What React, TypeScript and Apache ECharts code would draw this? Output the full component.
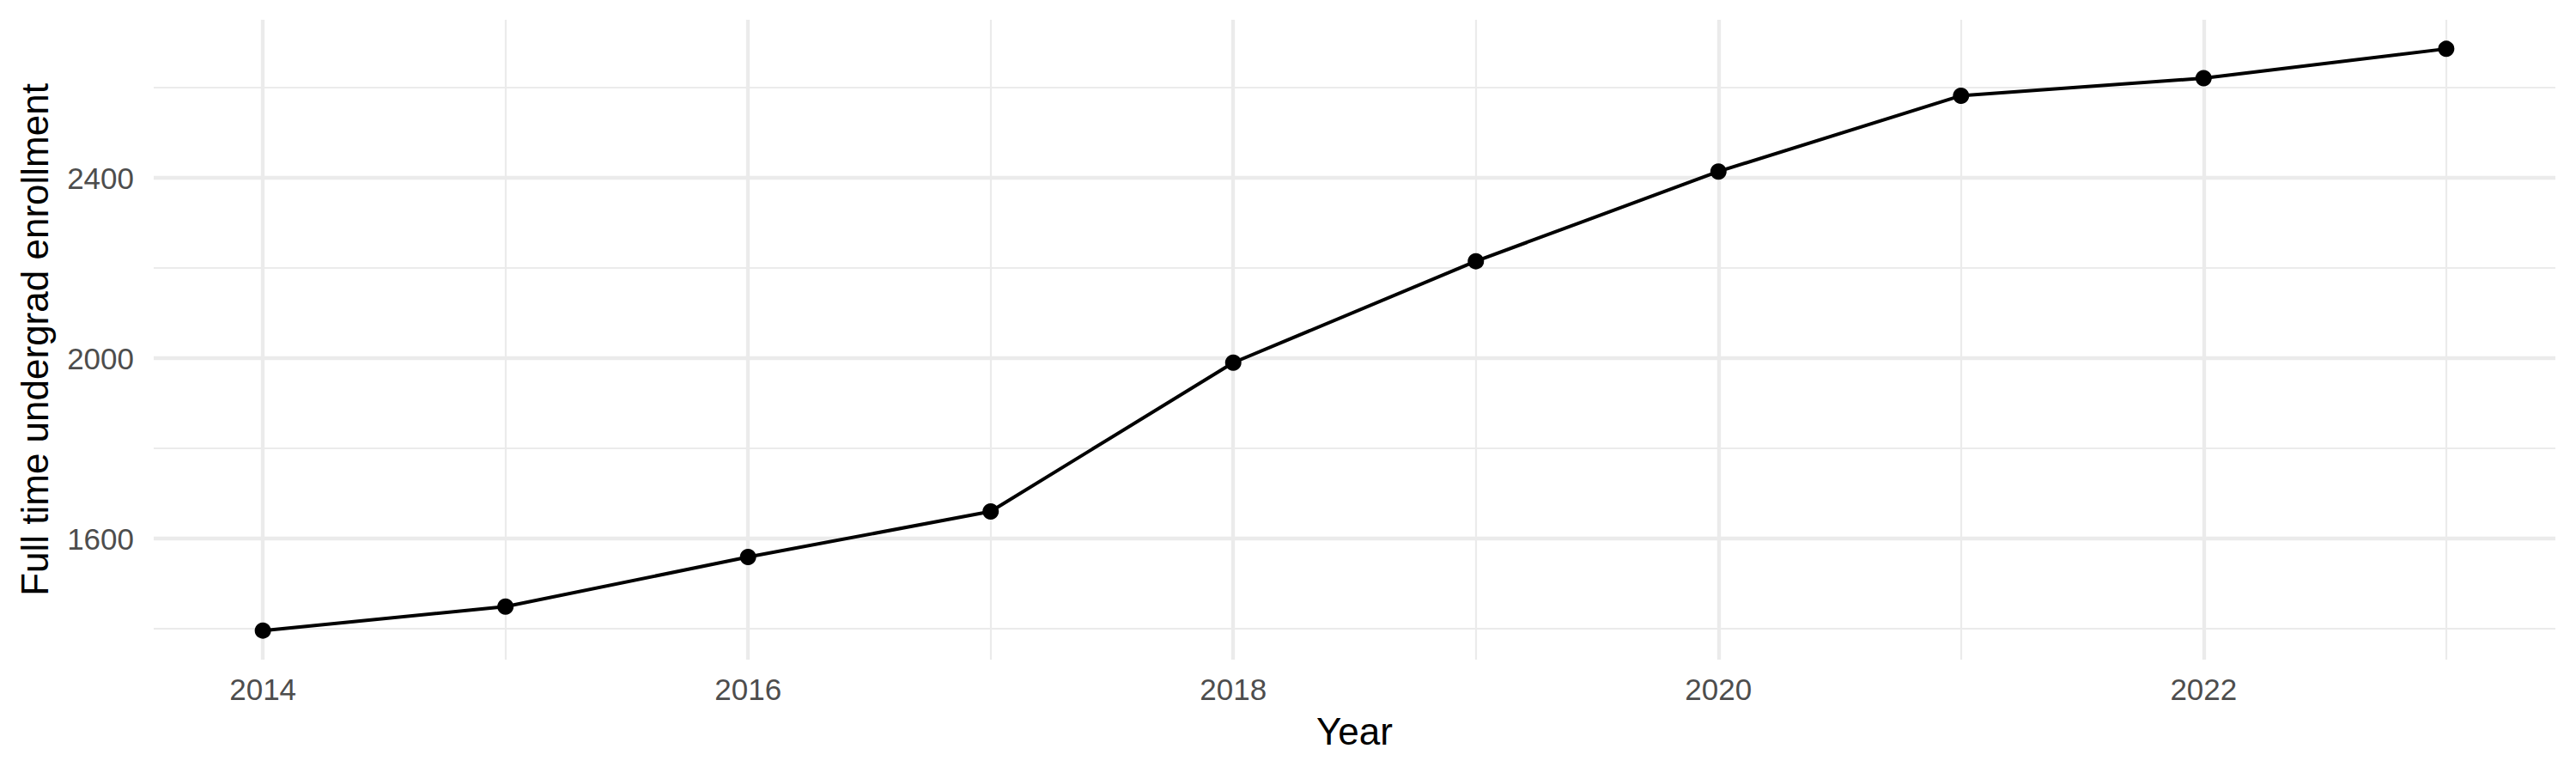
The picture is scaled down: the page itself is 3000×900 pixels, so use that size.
import React, { useEffect, useRef } from "react";
import * as echarts from "echarts";

const years = [2014, 2015, 2016, 2017, 2018, 2019, 2020, 2021, 2022, 2023];
const enrollment = [1396, 1449, 1559, 1660, 1990, 2215, 2414, 2582, 2621, 2686];
const xMajorTicks = [2014, 2016, 2018, 2020, 2022];
const xMinorTicks = [2015, 2017, 2019, 2021, 2023];
const yMajorTicks = [1600, 2000, 2400];
const yMinorTicks = [1400, 1800, 2200, 2600];
const xTitle = "Year";
const yTitle = "Full time undergrad enrollment";

const FONT = "'Liberation Sans', Arial, Helvetica, sans-serif";
const GRID_COLOR = "#EBEBEB";

function expand(values: number[]) {
  const lo = Math.min(...values);
  const hi = Math.max(...values);
  const pad = (hi - lo) * 0.05;
  return [lo - pad, hi + pad];
}

export default function App() {
  const ref = useRef<HTMLDivElement>(null);

  useEffect(() => {
    document.body.style.margin = "0";
    if (!ref.current) return;
    const chart = echarts.init(ref.current, undefined, { renderer: "svg" });
    const [xMin, xMax] = expand(years);
    const [yMin, yMax] = expand(enrollment);
    const fmt = (v: number) => String(Math.round(v));

    const hiddenBase = {
      axisLine: { show: false },
      axisTick: { show: false },
    };

    chart.setOption({
      animation: false,
      backgroundColor: "#FFFFFF",
      grid: {
        left: 179,
        right: 24,
        top: 23,
        bottom: 132,
        containLabel: false,
        outerBoundsMode: "none",
      },
      xAxis: [
        {
          type: "value",
          min: xMin,
          max: xMax,
          position: "bottom",
          ...hiddenBase,
          axisTick: { show: false, customValues: xMajorTicks },
          axisLabel: {
            customValues: xMajorTicks,
            formatter: fmt,
            color: "#4D4D4D",
            fontSize: 35,
            fontFamily: FONT,
            margin: 17,
          },
          splitLine: { show: true, lineStyle: { color: GRID_COLOR, width: 4.3 } },
          name: xTitle,
          nameLocation: "middle",
          nameGap: 61,
          nameTextStyle: { color: "#000000", fontSize: 44, fontFamily: FONT },
        },
        {
          type: "value",
          min: xMin,
          max: xMax,
          position: "top",
          ...hiddenBase,
          axisTick: { show: false, customValues: xMinorTicks },
          axisLabel: { show: false, customValues: xMinorTicks },
          splitLine: { show: true, lineStyle: { color: GRID_COLOR, width: 2.2 } },
        },
      ],
      yAxis: [
        {
          type: "value",
          min: yMin,
          max: yMax,
          position: "left",
          ...hiddenBase,
          axisTick: { show: false, customValues: yMajorTicks },
          axisLabel: {
            customValues: yMajorTicks,
            formatter: fmt,
            color: "#4D4D4D",
            fontSize: 35,
            fontFamily: FONT,
            margin: 23,
          },
          splitLine: { show: true, lineStyle: { color: GRID_COLOR, width: 4.3 } },
          name: yTitle,
          nameLocation: "middle",
          nameGap: 117,
          nameTextStyle: { color: "#000000", fontSize: 44, fontFamily: FONT },
        },
        {
          type: "value",
          min: yMin,
          max: yMax,
          position: "right",
          ...hiddenBase,
          axisTick: { show: false, customValues: yMinorTicks },
          axisLabel: { show: false, customValues: yMinorTicks },
          splitLine: { show: true, lineStyle: { color: GRID_COLOR, width: 2.2 } },
        },
      ],
      series: [
        {
          type: "line",
          xAxisIndex: 0,
          yAxisIndex: 0,
          data: years.map((y, i) => [y, enrollment[i]]),
          symbol: "circle",
          symbolSize: 19,
          showSymbol: true,
          lineStyle: { color: "#000000", width: 4 },
          itemStyle: { color: "#000000" },
          z: 5,
        },
      ],
    });

    return () => chart.dispose();
  }, []);

  return <div ref={ref} style={{ width: 3000, height: 900 }} />;
}
